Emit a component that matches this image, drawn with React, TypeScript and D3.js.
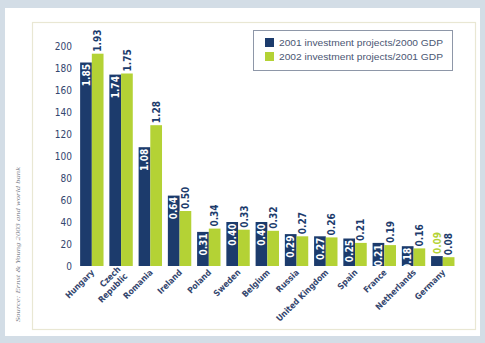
import React from "react";
import * as d3 from "d3";

const categories = [
  "Hungary",
  "Czech Republic",
  "Romania",
  "Ireland",
  "Poland",
  "Sweden",
  "Belgium",
  "Russia",
  "United Kingdom",
  "Spain",
  "France",
  "Netherlands",
  "Germany",
];
const series2001 = [1.85, 1.74, 1.08, 0.64, 0.31, 0.4, 0.4, 0.29, 0.27, 0.25, 0.21, 0.18, 0.09];
const series2002 = [1.93, 1.75, 1.28, 0.5, 0.34, 0.33, 0.32, 0.27, 0.26, 0.21, 0.19, 0.16, 0.08];
const seriesNames = ["2001 investment projects/2000 GDP", "2002 investment projects/2001 GDP"];
const yTicks = [0, 20, 40, 60, 80, 100, 120, 140, 160, 180, 200];
const sourceText = "Source: Ernst & Young 2003 and world bank";

const NAVY = "#1c3b6c";
const GREEN = "#b4d235";
const TEXT = "#34466e";

export default function App() {
  const W = 485;
  const H = 343;
  const x = d3.scaleBand<string>().domain(categories).range([77.2, 457.4]).paddingInner(0.2).paddingOuter(0.1);
  const xs = d3.scaleBand<string>().domain(["a", "b"]).range([0, x.bandwidth()]);
  const y = d3.scaleLinear().domain([0, 200]).range([266, 46]);
  const labelFont = "'DejaVu Sans Condensed', 'DejaVu Sans', sans-serif";

  return (
    <svg
      width={W}
      height={H}
      style={{ position: "absolute", left: 0, top: 0, display: "block" }}
    >
      <rect x={0} y={0} width={W} height={H} fill="#d3dde6" />
      <rect x={5} y={8} width={475} height={328} fill="#ffffff" />
      <rect x={32.5} y={22.5} width={443} height={307} fill="#ffffff" stroke="#e9e7d3" strokeWidth={1.2} />

      <text
        transform={`translate(20,322) rotate(-90)`}
        fontFamily="'Liberation Serif', serif"
        fontStyle="italic"
        fontSize={7}
        fill="#7f8590"
        textLength={155}
        lengthAdjust="spacingAndGlyphs"
      >
        {sourceText}
      </text>

      {yTicks.map((t) => (
        <text
          key={t}
          x={72}
          y={y(t)}
          dy="0.35em"
          textAnchor="end"
          fontFamily={labelFont}
          fontSize={10}
          fill={TEXT}
        >
          {t}
        </text>
      ))}

      {categories.map((c, i) => {
        const x0 = x(c)!;
        const v1 = series2001[i];
        const v2 = series2002[i];
        const bw = xs.bandwidth();
        const xa = x0 + xs("a")!;
        const xb = x0 + xs("b")!;
        const ya = y(v1 * 100);
        const yb = y(v2 * 100);
        const h1 = y(0) - ya;
        const inside = h1 > 15;
        return (
          <g key={c}>
            <rect x={xa} y={ya} width={bw} height={y(0) - ya} fill={NAVY} />
            <rect x={xb} y={yb} width={bw} height={y(0) - yb} fill={GREEN} />
            <text
              transform={`translate(${xa + bw / 2},${inside ? ya + 1.5 : ya - 2}) rotate(-90)`}
              textAnchor={inside ? "end" : "start"}
              dy="0.36em"
              fontFamily={labelFont}
              fontWeight="bold"
              fontSize={10}
              fill={inside ? "#ffffff" : GREEN}
            >
              {v1.toFixed(2)}
            </text>
            <text
              transform={`translate(${xb + bw / 2},${yb - 2}) rotate(-90)`}
              textAnchor="start"
              dy="0.36em"
              fontFamily={labelFont}
              fontWeight="bold"
              fontSize={10}
              fill={NAVY}
            >
              {v2.toFixed(2)}
            </text>
          </g>
        );
      })}

      {categories.map((c) => {
        const cx = x(c)! + x.bandwidth() / 2;
        const words = c === "Czech Republic" ? ["Czech", "Republic"] : [c];
        return (
          <text
            key={c}
            transform={`translate(${cx + 3},${273}) rotate(-45)`}
            textAnchor="end"
            fontFamily={labelFont}
            fontWeight="bold"
            fontSize={8.5}
            fill={TEXT}
          >
            {words.length === 1 ? (
              c
            ) : (
              <>
                <tspan x={0} dy="-0.5em">{words[0]}</tspan>
                <tspan x={0} dy="1.15em">{words[1]}</tspan>
              </>
            )}
          </text>
        );
      })}

      <g>
        <rect x={253.5} y={30.5} width={199} height={40} fill="#ffffff" stroke="#8e97a8" strokeWidth={1} />
        <rect x={265} y={38} width={9} height={9} fill={NAVY} />
        <rect x={265} y={52} width={9} height={9} fill={GREEN} />
        <text x={279} y={46} fontFamily="'Liberation Sans', sans-serif" fontSize={9} fill="#4a5673" textLength={164} lengthAdjust="spacingAndGlyphs">
          {seriesNames[0]}
        </text>
        <text x={279} y={60} fontFamily="'Liberation Sans', sans-serif" fontSize={9} fill="#4a5673" textLength={164} lengthAdjust="spacingAndGlyphs">
          {seriesNames[1]}
        </text>
      </g>
    </svg>
  );
}
